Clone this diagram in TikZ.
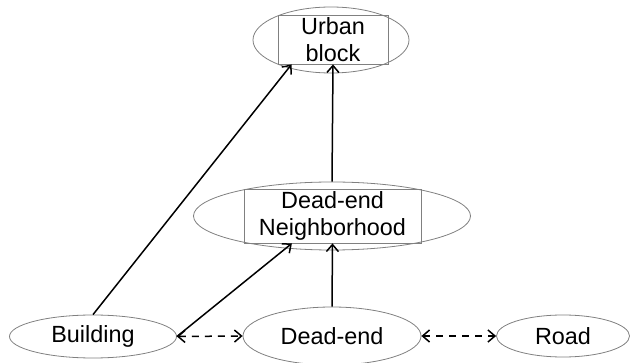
\documentclass[tikz,border=0pt]{standalone}
\usepackage{fontspec}
\setmainfont{Liberation Sans}
\usetikzlibrary{positioning, shapes.geometric, arrows.meta}
\definecolor{EdgeGray}{RGB}{128,128,128}

\begin{document}
\begin{tikzpicture}[
    x=1pt, y=-1pt,
    every node/.style={font=\fontsize{23.4}{27}\selectfont},
    >={Straight Barb[length=7pt, width=12pt]},
    ell/.style={ellipse, draw=EdgeGray, line width=0.8pt, inner sep=0pt},
    inbox/.style={rectangle, draw=EdgeGray, line width=0.8pt, align=center, inner sep=0pt},
    link/.style={->, line width=1.5pt},
    peer/.style={<->, line width=1.5pt, dash pattern=on 7pt off 6pt},
]
\useasboundingbox (0,0) rectangle (632,363);

% Urban block
\node[ell, minimum width=156pt, minimum height=66pt] (ubell) at (331, 40) {};
\node[inbox, minimum width=110pt, minimum height=49pt] (ub) at (333, 39.5) {Urban\\block};

% Dead-end neighborhood
\node[ell, minimum width=277pt, minimum height=68pt] (nbell) at (332, 216) {};
\node[inbox, minimum width=177pt, minimum height=54pt] (nb) at (332.5, 216) {Dead-end\\Neighborhood};

% Bottom row
\node[ell, minimum width=167pt, minimum height=43pt] (bld) at (93, 336.5) {Building};
\node[ell, minimum width=178pt, minimum height=58pt] (de) at (332, 336) {Dead-end};
\node[ell, minimum width=133pt, minimum height=42pt] (road) at (563, 336) {Road};

% Composition links
\draw[link] (bld.north) -- (ub.211);
\draw[link] (bld.east) -- (nb.214);
\draw[link] (de.north) -- (nb.south);
\draw[link] (nbell.north) -- (ub.south);

% Adjacency
\draw[peer] (bld.east) -- (de.west);
\draw[peer] (de.east) -- (road.west);

\end{tikzpicture}
\end{document}
